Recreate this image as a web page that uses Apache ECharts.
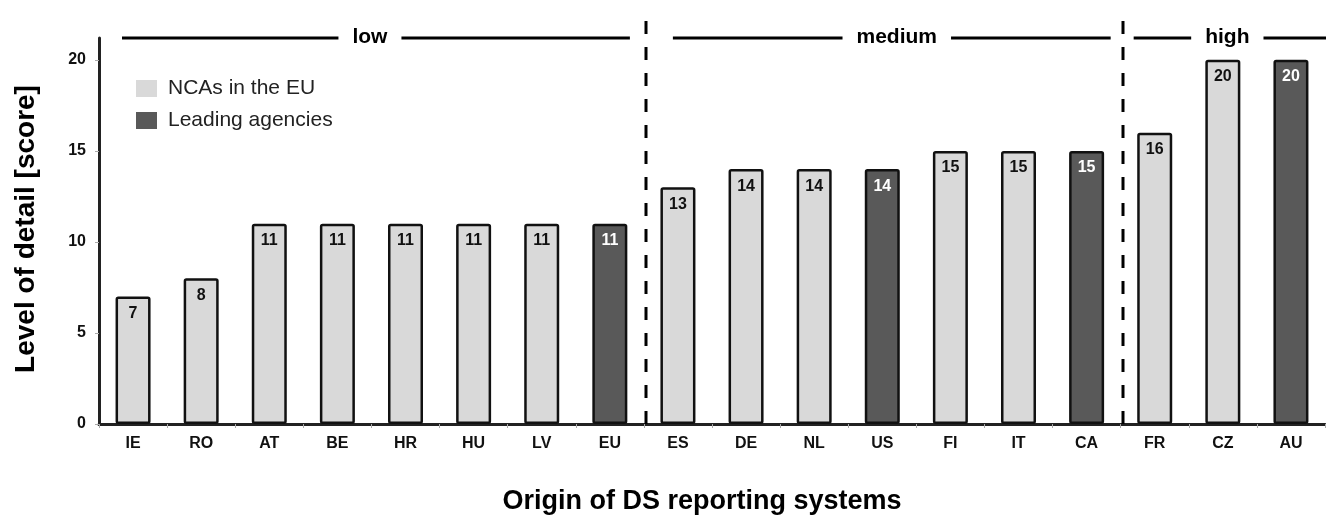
<!DOCTYPE html>
<html>
<head>
<meta charset="utf-8">
<title>Level of detail of DS reporting systems</title>
<script src="https://cdn.jsdelivr.net/npm/echarts@6/dist/echarts.min.js"></script>
<style>
  html, body { margin: 0; padding: 0; background: #fff; }
  #chart { width: 1326px; height: 518px; }
</style>
</head>
<body>
<div id="chart"></div>
<script>
// Reporting systems, ordered by score
const categories = ['IE', 'RO', 'AT', 'BE', 'HR', 'HU', 'LV', 'EU', 'ES', 'DE', 'NL', 'US', 'FI', 'IT', 'CA', 'FR', 'CZ', 'AU'];
// National competent authorities in the EU ('-' = not in this series)
const ncaValues = [7, 8, 11, 11, 11, 11, 11, '-', 13, 14, 14, '-', 15, 15, '-', 16, 20, '-'];
// Leading agencies
const leadingValues = ['-', '-', '-', '-', '-', '-', '-', 11, '-', '-', '-', 14, '-', '-', 15, '-', '-', 20];
// Detail groups: name, first and last category index
const groupNames = ['low', 'medium', 'high'];
const groupFirst = [0, 8, 15];
const groupLast = [7, 14, 17];
// Y axis tick values
const yTicks = [0, 5, 10, 15, 20];

const FONT = '"Liberation Sans", Arial, sans-serif';
const chart = echarts.init(document.getElementById('chart'), null, { renderer: 'canvas' });

const barBase = {
  type: 'bar',
  barWidth: 35,
  label: {
    show: true,
    position: 'insideTop',
    distance: 9,
    fontFamily: FONT,
    fontWeight: 'bold',
    fontSize: 16
  }
};

chart.setOption({
  animation: false,
  backgroundColor: '#fff',
  grid: { left: 99, right: 1, top: 38, bottom: 94 },
  legend: {
    orient: 'vertical',
    left: 136,
    top: 78,
    padding: 0,
    itemWidth: 21,
    itemHeight: 17,
    itemGap: 11,
    icon: 'rect',
    itemStyle: { borderWidth: 0 },
    textStyle: { fontFamily: FONT, fontSize: 21, color: '#222', lineHeight: 17, padding: [0, 0, 0, 6] },
    data: ['NCAs in the EU', 'Leading agencies']
  },
  xAxis: {
    type: 'category',
    data: categories,
    axisLine: { lineStyle: { color: '#222', width: 3 } },
    axisTick: { show: true, length: 4, lineStyle: { color: '#aaa', width: 1 } },
    axisLabel: { fontFamily: FONT, fontWeight: 'bold', fontSize: 16, color: '#111', margin: 12 }
  },
  yAxis: {
    type: 'value',
    min: 0,
    max: 21.2,
    axisLine: { show: true, lineStyle: { color: '#222', width: 3 } },
    axisTick: { show: true, length: 4, lineStyle: { color: '#aaa', width: 1 }, customValues: yTicks },
    axisLabel: { fontFamily: FONT, fontWeight: 'bold', fontSize: 16, color: '#111', margin: 13, customValues: yTicks },
    splitLine: { show: false }
  },
  series: [
    Object.assign({}, barBase, {
      name: 'NCAs in the EU',
      data: ncaValues,
      itemStyle: { color: '#d9d9d9', borderColor: '#111', borderWidth: 2.5, borderRadius: 1.5 },
      label: Object.assign({}, barBase.label, { color: '#111' })
    }),
    Object.assign({}, barBase, {
      name: 'Leading agencies',
      data: leadingValues,
      barGap: '-100%',
      itemStyle: { color: '#595959', borderColor: '#111', borderWidth: 2.5, borderRadius: 1.5 },
      label: Object.assign({}, barBase.label, { color: '#fff' })
    })
  ]
});

// Annotations placed from the axes: group separators, group headers, axis titles
const xAt = i => chart.convertToPixel({ xAxisIndex: 0 }, categories[i]);
const yAt = v => chart.convertToPixel({ yAxisIndex: 0 }, v);
const band = xAt(1) - xAt(0);
const y0 = yAt(0);
const headerY = yAt(21.2);
const headerFont = 'bold 21px ' + FONT;
const measureCtx = document.createElement('canvas').getContext('2d');
measureCtx.font = headerFont;

const elements = [];

// dashed separators between groups
for (let g = 1; g < groupNames.length; g++) {
  const x = Math.round((xAt(groupLast[g - 1]) + xAt(groupFirst[g])) / 2) + 2;
  elements.push({
    type: 'line',
    shape: { x1: x, y1: y0, x2: x, y2: 12 },
    style: { stroke: '#000', lineWidth: 3, lineDash: [13, 13] },
    z: 10
  });
}

// group headers: label with a rule on each side
const insetLeft = [23, 29, 13];
const insetRight = [14, 10, -2];
const textShift = [-6, 5, -3];
groupNames.forEach((name, g) => {
  const left = xAt(groupFirst[g]) - band / 2 + insetLeft[g];
  const right = xAt(groupLast[g]) + band / 2 - insetRight[g];
  const mid = (left + right) / 2 + textShift[g];
  const half = measureCtx.measureText(name).width / 2 + 14;
  elements.push(
    { type: 'line', shape: { x1: left, y1: headerY, x2: mid - half, y2: headerY }, style: { stroke: '#000', lineWidth: 3 }, z: 10 },
    { type: 'line', shape: { x1: mid + half, y1: headerY, x2: right, y2: headerY }, style: { stroke: '#000', lineWidth: 3 }, z: 10 },
    {
      type: 'text', x: mid, y: headerY - 1, z: 10,
      style: { text: name, font: headerFont, fill: '#000', align: 'center', verticalAlign: 'middle' }
    }
  );
});

// axis titles
elements.push(
  {
    type: 'text', x: 26, y: 229, rotation: Math.PI / 2, z: 10,
    style: { text: 'Level of detail [score]', font: 'bold 28px ' + FONT, fill: '#000', align: 'center', verticalAlign: 'middle' }
  },
  {
    type: 'text', x: 702, y: 502, z: 10,
    style: { text: 'Origin of DS reporting systems', font: 'bold 27px ' + FONT, fill: '#000', align: 'center', verticalAlign: 'middle' }
  }
);

chart.setOption({ graphic: { elements: elements } });
</script>
</body>
</html>
